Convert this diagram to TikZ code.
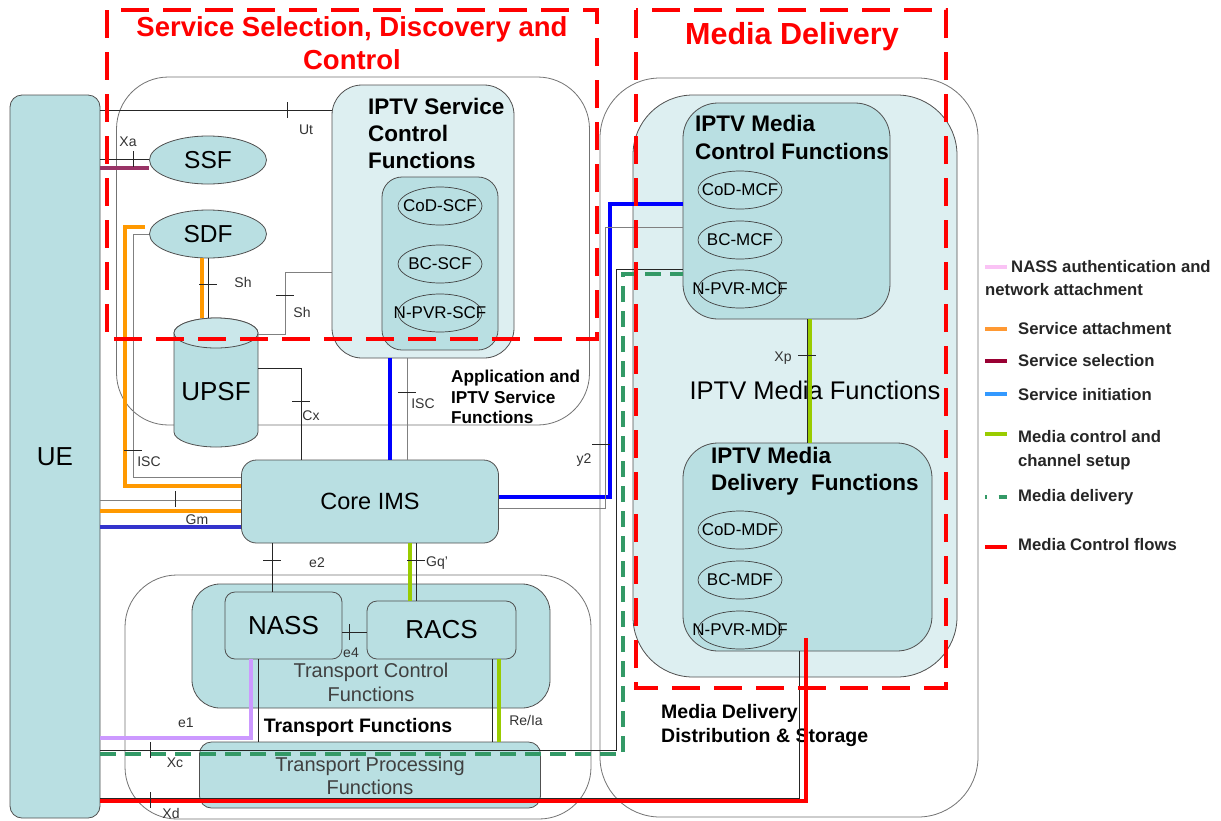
\documentclass[tikz,border=0pt]{standalone}
\usepackage{fontspec}
\setmainfont{Liberation Sans}
\usetikzlibrary{shapes.geometric,calc}
\definecolor{fnteal}{RGB}{185,223,226}
\definecolor{fnpale}{RGB}{221,239,241}
\definecolor{cyltop}{RGB}{202,231,234}
\definecolor{boxgray}{RGB}{80,80,80}
\definecolor{outgray}{RGB}{115,115,115}
\definecolor{attorange}{RGB}{255,153,0}
\definecolor{selmaroon}{RGB}{153,51,102}
\definecolor{iniblue}{RGB}{0,0,255}
\definecolor{gmblue}{RGB}{51,51,204}
\definecolor{mcgreen}{RGB}{153,204,0}
\definecolor{mdgreen}{RGB}{51,153,102}
\definecolor{nasslilac}{RGB}{204,153,255}
\definecolor{mcfred}{RGB}{255,0,0}
\definecolor{txtgray}{RGB}{64,64,64}
\definecolor{legpink}{RGB}{250,195,245}
\definecolor{legorange}{RGB}{255,153,51}
\definecolor{legmaroon}{RGB}{153,0,51}
\definecolor{legblue}{RGB}{51,153,255}
\tikzset{
  fbox/.style={draw=boxgray, line width=0.8pt, inner sep=0pt, rounded corners=#1},
  fbox/.default=12pt,
  outbox/.style={draw=outgray, line width=0.8pt, fill=white, inner sep=0pt, rounded corners=#1},
  fnell/.style={ellipse, draw=boxgray, line width=0.8pt, fill=fnteal, inner sep=0pt, minimum width=117pt, minimum height=48pt, font=\fontsize{24.5}{24.5}\selectfont},
  subell/.style={ellipse, draw=black!75, line width=0.7pt, inner sep=0pt, minimum width=84pt, minimum height=38pt},
  subtxt/.style={inner sep=0pt, font=\fontsize{17}{17}\selectfont},
  bigtxt/.style={font=\fontsize{26}{26}\selectfont},
  hdr/.style={inner sep=0pt, anchor=west, align=left, font=\bfseries\fontsize{22.5}{28}\selectfont},
  ifc/.style={draw=black!85, line width=0.8pt},
  ifcgray/.style={draw=black!50, line width=0.8pt},
  ifl/.style={inner sep=0pt, font=\fontsize{14}{14}\selectfont, text=black!80},
  flowline/.style={line width=3.5pt},
  mdflow/.style={flowline, draw=mdgreen, dash pattern=on 16pt off 9pt},
  reddash/.style={draw=mcfred, line width=3.5pt, dash pattern=on 28pt off 14pt},
  legtxt/.style={anchor=west, inner sep=0pt, font=\bfseries\fontsize{16.7}{16.7}\selectfont, text=black!85}
}
\begin{document}
\begin{tikzpicture}[x=1pt,y=-1pt]
\useasboundingbox (0,0) rectangle (1221,820);
\fill[white] (0,0) rectangle (1221,820);
\node[outbox=60pt, minimum width=378pt, minimum height=739pt] (mdds) at (789,447.5) {};
\node[fbox=60pt, fill=fnpale, minimum width=324pt, minimum height=582pt] (mf) at (795,386) {};
\node[outbox=52pt, minimum width=473pt, minimum height=348pt] (appf) at (353,251) {};
\node[outbox=52pt, minimum width=466pt, minimum height=244pt] (tf) at (358,697) {};
\node[fbox, fill=fnteal, minimum width=90pt, minimum height=723pt, bigtxt] (ue) at (55,456.5) {UE};
\node[fbox=30pt, fill=fnpale, minimum width=182pt, minimum height=273pt] (iscf) at (423,221.5) {};
\node[fbox=20pt, fill=fnteal, minimum width=116pt, minimum height=173pt] (scfgrp) at (440,263.5) {};
\node[hdr, font=\bfseries\fontsize{22.5}{27}\selectfont] (iscfl) at (368,133) {IPTV Service\\Control\\Functions};
\node[inner sep=0pt, anchor=west, align=left, font=\bfseries\fontsize{17.2}{20.5}\selectfont] (appfl) at (451,397) {Application and\\IPTV Service\\Functions};
\node[fnell] (ssf) at (208,160) {SSF};
\node[fnell] (sdf) at (208,234) {SDF};
\draw[draw=boxgray, line width=0.8pt, fill=fnteal] (174,333) -- (174,432) arc[start angle=180, end angle=360, x radius=42pt, y radius=15pt] -- (258,333) arc[start angle=0, end angle=180, x radius=42pt, y radius=15pt] -- cycle;
\draw[draw=boxgray, line width=0.8pt, fill=cyltop] (216,333) ellipse [x radius=42pt, y radius=15pt];
\node[inner sep=0pt, minimum width=84pt, minimum height=129pt] (upsf) at (216,382.5) {};
\node[bigtxt] (upsft) at (216,392) {UPSF};
\node[fbox=15pt, fill=fnteal, minimum width=257pt, minimum height=83pt, font=\fontsize{23.5}{23.5}\selectfont] (coreims) at (370,501.5) {Core IMS};
\node[fbox=28pt, fill=fnteal, minimum width=358pt, minimum height=124pt] (tcf) at (371,646) {};
\node[text=txtgray, inner sep=0pt, align=center, font=\fontsize{20}{24.5}\selectfont] (tcfl) at (371,682.5) {Transport Control\\Functions};
\node[fbox=10pt, fill=fnteal, minimum width=117pt, minimum height=67pt, bigtxt] (nass) at (283.5,625.5) {NASS};
\node[fbox=10pt, fill=fnteal, minimum width=149pt, minimum height=58pt, bigtxt] (racs) at (441.5,630) {RACS};
\node[fbox, fill=fnteal, minimum width=341pt, minimum height=66pt] (tpf) at (370,775) {};
\node[text=txtgray, inner sep=0pt, align=center, font=\fontsize{20}{23}\selectfont] (tpfl) at (370,776) {Transport Processing\\Functions};
\node[inner sep=0pt, font=\bfseries\fontsize{19.5}{19.5}\selectfont] (tfl) at (358,727) {Transport Functions};
\node[font=\fontsize{25.5}{25.5}\selectfont] (mfl) at (815,390) {IPTV Media Functions};
\node[fbox=35pt, fill=fnteal, minimum width=207pt, minimum height=216pt] (mcf) at (786.5,211) {};
\node[hdr] (mcfl) at (695,137.5) {IPTV Media\\Control Functions};
\node[fbox=35pt, fill=fnteal, minimum width=249pt, minimum height=208pt] (mdf) at (807.5,547) {};
\node[hdr, font=\bfseries\fontsize{22.5}{27}\selectfont] (mdfl) at (711,471) {IPTV Media\\Delivery\ \ Functions};
\node[inner sep=0pt, anchor=west, align=left, font=\bfseries\fontsize{19.5}{24}\selectfont] (mddsl) at (661,725) {Media Delivery\\Distribution \& Storage};
\foreach \nm/\x/\y/\txt in {codscf/440/206/CoD-SCF, bcscf/440/264/BC-SCF, npvrscf/440/313/N-PVR-SCF, codmcf/740/190/CoD-MCF, bcmcf/740/240/BC-MCF, npvrmcf/740/289/N-PVR-MCF, codmdf/740/530/CoD-MDF, bcmdf/740/580/BC-MDF, npvrmdf/740/630/N-PVR-MDF} {\node[subell] (\nm) at (\x,\y) {}; \node[subtxt] (\nm-t) at (\x,\y) {\txt};}
\draw[ifc] (ue.east |- 0,110) -- (iscf.west |- 0,110);
\draw[ifc] (ue.east |- 0,159) -- (ssf.west |- 0,159);
\draw[flowline, draw=selmaroon] (ue.east |- 0,168) -- (ssf.west |- 0,168);
\draw[ifcgray] (sdf.west) -| (133,477) -- (coreims.west |- 0,477);
\draw[flowline, draw=attorange] (sdf.west) ++(-4,-7) -| (125,486) -- (coreims.west |- 0,486);
\draw[flowline, draw=attorange] (sdf.south -| 202,0) -- (upsf.north -| 202,0);
\draw[ifc] (sdf.south) -- (sdf.south |- upsf.north);
\draw[ifcgray] (upsf.east |- 0,334) -| (285,272) -- (iscf.west |- 0,272);
\draw[ifc] (upsf.east |- 0,368) -| (coreims.north -| 301,0);
\draw[ifcgray] (iscf.south -| 407,0) -- (coreims.north -| 407,0);
\draw[flowline, draw=iniblue] (iscf.south -| 390,0) -- (coreims.north -| 390,0);
\draw[ifcgray] (ue.east |- 0,500) -- (coreims.west |- 0,500);
\draw[flowline, draw=attorange] (ue.east |- 0,511) -- (coreims.west |- 0,511);
\draw[flowline, draw=gmblue] (ue.east |- 0,527) -- (coreims.west |- 0,527);
\draw[flowline, draw=iniblue] (coreims.east |- 0,497) -| (610,204) -- (mcf.west |- 0,204);
\draw[ifcgray] (coreims.east |- 0,508) -| (605,227) -- (mcf.west |- 0,227);
\draw[ifc] (coreims.south -| 272,0) -- (nass.north -| 272,0);
\draw[flowline, draw=mcgreen] (coreims.south -| 410,0) -- (racs.north -| 410,0);
\draw[ifc] (coreims.south -| 416,0) -- (racs.north -| 416,0);
\draw[ifc] (nass.east |- 0,632) -- (racs.west |- 0,632);
\draw[ifc] (nass.south -| 258,0) -- (tpf.north -| 258,0);
\draw[flowline, draw=nasslilac] (nass.south -| 251,0) |- (ue.east |- 0,738);
\draw[ifc] (racs.south -| 492,0) -- (tpf.north -| 492,0);
\draw[flowline, draw=mcgreen] (racs.south -| 499,0) -- (tpf.north -| 499,0);
\draw[ifc] (ue.east |- 0,750) -| (616,269) -- (mcf.west |- 0,269);
\draw[mdflow] (ue.east |- 0,754) -| (623,274) -- (mcf.west |- 0,274);
\draw[ifc] (mdf.south -| 799,0) |- (ue.east |- 0,798);
\draw[flowline, draw=mcfred] ($(mdf.south -| 806,0)+(0,-13)$) |- (ue.east |- 0,801);
\draw[ifc] (mcf.south -| 807,0) -- (mdf.north -| 807,0);
\draw[flowline, draw=mcgreen] (mcf.south -| 810,0) -- (mdf.north -| 810,0);
\foreach \x/\y in {287/110, 133/159, 175/499, 349/632, 150/750, 150/800} \draw[ifc] (\x,\y-8) -- (\x,\y+8);
\foreach \x/\y in {208/284, 285/295, 301/401, 407/392, 133/450, 601/444, 272/560, 416/560, 807/355} \draw[ifc] (\x-9,\y) -- (\x+9,\y);
\foreach \nm/\x/\y/\txt in {ut/306/130/Ut, xa/128/142/Xa, sha/243/282/Sh, shb/302/312/Sh, cx/311/416/Cx, iscr/423/404/ISC, iscl/149/462/ISC, ytwo/584/460/y2, gm/197/520/Gm, etwo/317/563/e2, gq/437/563/Gq', efour/351/653/e4, eone/186/723/e1, reia/526/720/{Re/Ia}, xc/175/763/Xc, xd/171/813/Xd, xp/783/358/Xp} \node[ifl] (\nm) at (\x,\y) {\txt};
\draw[reddash] (107,10) rectangle (597,339);
\draw[reddash] (636,10) rectangle (946,688);
\node[text=mcfred, inner sep=0pt, align=center, font=\bfseries\fontsize{27.5}{33}\selectfont] (ssdc) at (352,43.5) {Service Selection, Discovery and\\Control};
\node[text=mcfred, inner sep=0pt, font=\bfseries\fontsize{30.5}{30.5}\selectfont] (mdt) at (792,37) {Media Delivery};
\foreach \y/\col in {267/legpink, 329/legorange, 361/legmaroon, 394/legblue, 434/mcgreen, 547/mcfred} \draw[flowline, draw=\col] (985,\y) -- (1007,\y);
\draw[flowline, draw=mdgreen, dash pattern=on 1.5pt off 12pt on 9pt off 30pt] (985,497) -- (1007,497);
\node[legtxt] (legnass) at (1011,267) {NASS authentication and};
\node[legtxt] (legnassb) at (985,290) {network attachment};
\foreach \nm/\y/\txt in {legatt/329/Service attachment, legsel/361/Service selection, legini/395/Service initiation, legmc/437/Media control and, legmcb/462/channel setup, legmd/497/Media delivery, legmcf/545/Media Control flows} \node[legtxt] (\nm) at (1018,\y) {\txt};
\end{tikzpicture}
\end{document}
